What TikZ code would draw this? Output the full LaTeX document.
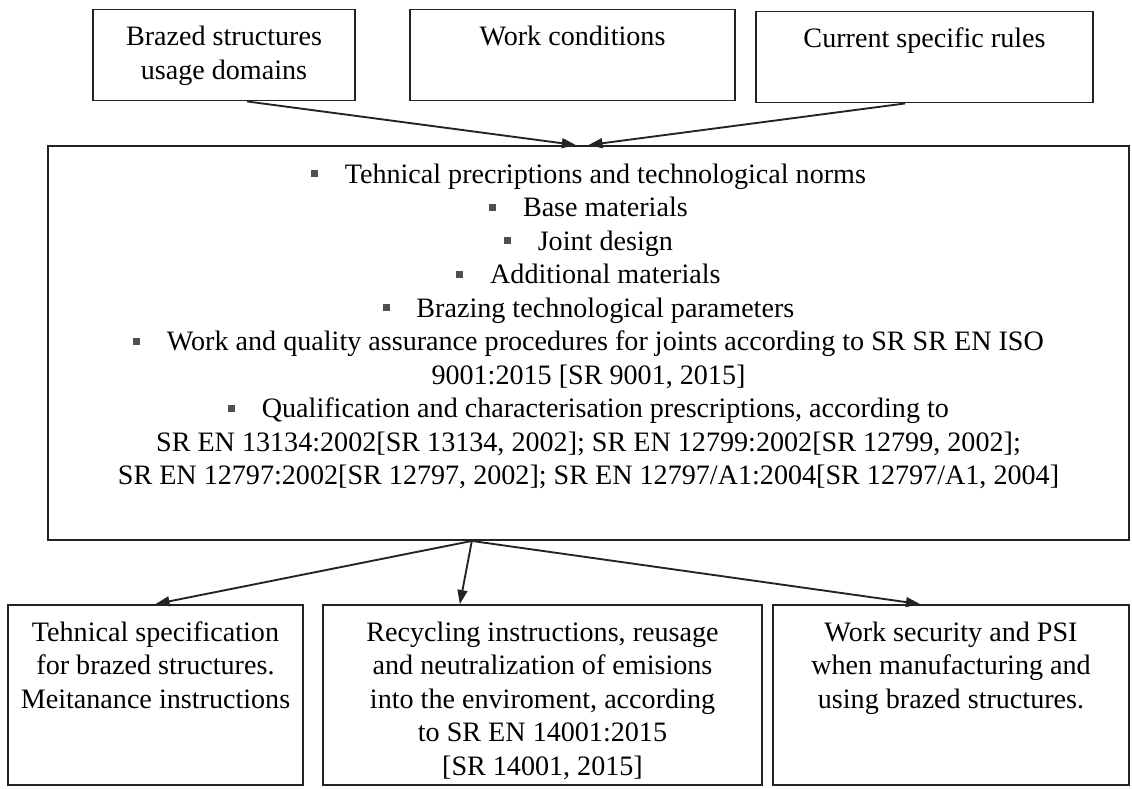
\documentclass[tikz,border=0pt]{standalone}
\usepackage{fontspec}
\setmainfont{Liberation Serif}
\usepackage{xcolor}
\usetikzlibrary{arrows.meta, positioning}
\definecolor{lineGray}{RGB}{35,35,35}
\definecolor{bulletGray}{RGB}{80,80,80}
\newcommand{\sqitem}{\textcolor{bulletGray}{\rule[0.2em]{0.25em}{0.25em}}\hspace{0.95em}}

\begin{document}
\begin{tikzpicture}[
    x=0.015cm, y=-0.015cm,
    >={Triangle[length=6pt,width=4.2pt]},
    % plain outline of a box
    boxframe/.style={
        rectangle, draw=lineGray,
        line width=0.8pt, inner sep=0pt
    },
    % text set at the top of a box
    boxtext/.style={
        inner sep=0pt, align=center,
        font=\fontsize{12}{14.3}\selectfont
    },
    link/.style={->, line width=0.8pt, draw=lineGray}
]
\useasboundingbox (0,0) rectangle (1132,788);
% ── Top row ─────────────────────────────────────────────────
\node[boxframe, minimum width=3.93cm, minimum height=1.365cm]
    (domains) at (224,55) {};
\node[boxframe, minimum width=4.875cm, minimum height=1.365cm]
    (conditions) at (572.5,55) {};
\node[boxframe, minimum width=5.055cm, minimum height=1.365cm]
    (rules) at (924.5,57) {};
\node[boxtext, below=0.255cm of domains.north] (domainsTxt)
    {Brazed structures\\usage domains};
\node[boxtext, below=0.255cm of conditions.north] (conditionsTxt)
    {Work conditions};
\node[boxtext, below=0.255cm of rules.north] (rulesTxt)
    {Current specific rules};
% ── Central box ─────────────────────────────────────────────
\node[boxframe, minimum width=16.215cm, minimum height=5.91cm]
    (norms) at (588.5,343) {};
\node[boxtext, below=0.27cm of norms.north] (normsTxt)
    {\sqitem Tehnical precriptions and technological norms\\
     \sqitem Base materials\\
     \sqitem Joint design\\
     \sqitem Additional materials\\
     \sqitem Brazing technological parameters\\
     \sqitem Work and quality assurance procedures for joints according to SR SR EN ISO\\
     9001:2015 [SR 9001, 2015]\\
     \sqitem Qualification and characterisation prescriptions, according to\\
     SR EN 13134:2002[SR 13134, 2002]; SR EN 12799:2002[SR 12799, 2002];\\
     SR EN 12797:2002[SR 12797, 2002]; SR EN 12797/A1:2004[SR 12797/A1, 2004]};
% ── Bottom row ──────────────────────────────────────────────
\node[boxframe, minimum width=4.425cm, minimum height=2.7cm]
    (spec) at (155.5,695) {};
\node[boxframe, minimum width=6.585cm, minimum height=2.7cm]
    (recycle) at (542.5,695) {};
\node[boxframe, minimum width=5.34cm, minimum height=2.7cm]
    (safety) at (951,695) {};
\node[boxtext, below=0.255cm of spec.north] (specTxt)
    {Tehnical specification\\for brazed structures.\\Meitanance instructions};
\node[boxtext, below=0.255cm of recycle.north] (recycleTxt)
    {Recycling instructions, reusage\\and neutralization of emisions\\
     into the enviroment, according\\to SR EN 14001:2015\\{[}SR 14001, 2015{]}};
\node[boxtext, below=0.255cm of safety.north] (safetyTxt)
    {Work security and PSI\\when manufacturing and\\using brazed structures.};
% ── Arrows into the central box ─────────────────────────────
\draw[link] ([xshift=0.345cm]domains.south) -- ([xshift=-0.19cm]norms.north);
\draw[link] ([xshift=-0.29cm]rules.south) -- (norms.north);
% ── Arrows out of the central box ───────────────────────────
\coordinate (split) at ([xshift=-1.75cm]norms.south);
\draw[link] (split) -- (spec.north);
\draw[link] (split) -- ([xshift=-1.24cm]recycle.north);
\draw[link] (split) -- ([xshift=-0.465cm]safety.north);
\end{tikzpicture}
\end{document}
